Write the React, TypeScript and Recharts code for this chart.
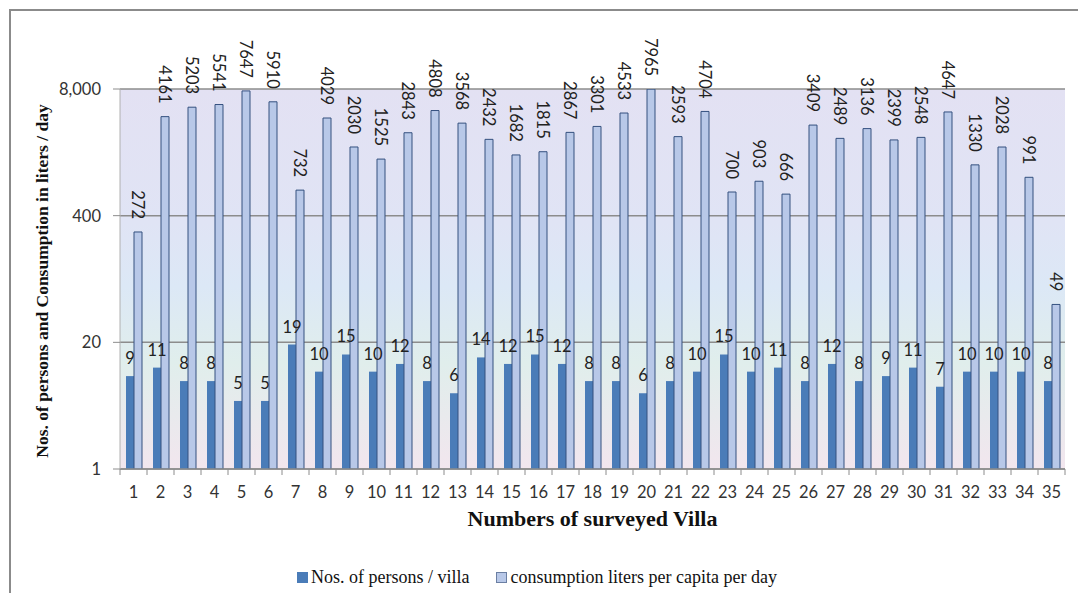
import { Bar, BarChart, CartesianGrid, LabelList, XAxis, YAxis } from "recharts";

const villas = [
  "1", "2", "3", "4", "5", "6", "7", "8", "9", "10", "11", "12", "13", "14", "15", "16", "17", "18",
  "19", "20", "21", "22", "23", "24", "25", "26", "27", "28", "29", "30", "31", "32", "33", "34", "35",
];

const persons = [
  9, 11, 8, 8, 5, 5, 19, 10, 15, 10, 12, 8, 6, 14, 12, 15, 12, 8, 8, 6, 8, 10, 15, 10, 11, 8, 12, 8, 9,
  11, 7, 10, 10, 10, 8,
];

const consumption = [
  272, 4161, 5203, 5541, 7647, 5910, 732, 4029, 2030, 1525, 2843, 4808, 3568, 2432, 1682, 1815, 2867,
  3301, 4533, 7965, 2593, 4704, 700, 903, 666, 3409, 2489, 3136, 2399, 2548, 4647, 1330, 2028, 991, 49,
];

const yTicks = [1, 20, 400, 8000];

const data = villas.map((villa, i) => ({
  villa,
  persons: persons[i],
  consumption: consumption[i],
}));

const PLOT_LEFT = 120;
const PLOT_RIGHT = 1065;
const PLOT_TOP = 89;
const PLOT_BOTTOM = 469;
const BAND = (PLOT_RIGHT - PLOT_LEFT) / villas.length;

const sans = "Lato, 'Open Sans', sans-serif";
const serif = "'Liberation Serif', 'DejaVu Serif', serif";

function XTick(props: any) {
  const { x, y, payload, index } = props;
  const axisY = y - 8;
  const isLast = index === villas.length - 1;
  return (
    <g>
      <line x1={x - BAND / 2} x2={x - BAND / 2} y1={axisY} y2={axisY + 6} stroke="#8c8c8c" />
      {isLast && (
        <line x1={x + BAND / 2} x2={x + BAND / 2} y1={axisY} y2={axisY + 6} stroke="#8c8c8c" />
      )}
      <text x={x} y={axisY + 29} textAnchor="middle" fontFamily={sans} fontSize={16.5} fill="#333">
        {payload.value}
      </text>
    </g>
  );
}

function PersonLabel(props: any) {
  const { x, y, width, value } = props;
  return (
    <text
      x={x + width / 2}
      y={y - 12}
      textAnchor="middle"
      fontFamily={sans}
      fontSize={16.5}
      fill="#222"
    >
      {value}
    </text>
  );
}

function ConsumptionLabel(props: any) {
  const { x, y, width, value } = props;
  const cx = x + width / 2;
  const cy = y - 13;
  return (
    <text
      x={cx}
      y={cy}
      transform={`rotate(90, ${cx}, ${cy})`}
      textAnchor="end"
      dominantBaseline="central"
      fontFamily={sans}
      fontSize={16.5}
      fill="#222"
    >
      {value}
    </text>
  );
}

function YTitle() {
  const cy = (PLOT_TOP + PLOT_BOTTOM) / 2 + 2;
  return (
    <text
      x={48}
      y={cy}
      transform={`rotate(-90, 48, ${cy})`}
      textAnchor="middle"
      fontFamily={serif}
      fontWeight="bold"
      fontSize={17.5}
      fill="#111"
    >
      Nos. of persons and Consumption in liters / day
    </text>
  );
}

function XTitle() {
  return (
    <text
      x={(PLOT_LEFT + PLOT_RIGHT) / 2}
      y={526}
      textAnchor="middle"
      fontFamily={serif}
      fontWeight="bold"
      fontSize={22}
      fill="#111"
    >
      Numbers of surveyed Villa
    </text>
  );
}

export default function App() {
  return (
    <div
      style={{
        position: "fixed",
        left: 0,
        top: 0,
        width: 1078,
        height: 593,
        overflow: "hidden",
        background: "#fff",
      }}
    >
      <svg width={0} height={0} style={{ position: "absolute" }}>
        <defs>
          <linearGradient id="plotBg" x1="0" y1="0" x2="0" y2="1">
            <stop offset="0%" stopColor="#e3e1f3" />
            <stop offset="35%" stopColor="#e0e4f5" />
            <stop offset="52%" stopColor="#dce8f6" />
            <stop offset="72%" stopColor="#e0eeec" />
            <stop offset="100%" stopColor="#f2e6ee" />
          </linearGradient>
        </defs>
      </svg>
      <div
        style={{
          position: "absolute",
          left: 9,
          top: 9,
          width: 1100,
          height: 620,
          border: "2px solid #8b8b8b",
          boxSizing: "border-box",
        }}
      />
      <div style={{ position: "absolute", left: 0, top: 0 }}>
        <BarChart
          width={1078}
          height={593}
          data={data}
          margin={{ top: PLOT_TOP, right: 1078 - PLOT_RIGHT, bottom: 593 - PLOT_BOTTOM - 30, left: 60 }}
          barGap={0}
          barSize={8}
        >
          <CartesianGrid
            vertical={false}
            fill="url(#plotBg)"
            stroke="#8c8c8c"
            strokeWidth={1.5}
          />
          <XAxis
            dataKey="villa"
            height={30}
            interval={0}
            tickLine={false}
            axisLine={{ stroke: "#8c8c8c", strokeWidth: 1.5 }}
            tick={<XTick />}
            label={<XTitle />}
          />
          <YAxis
            type="number"
            scale="log"
            domain={[1, 8000]}
            ticks={yTicks}
            allowDataOverflow
            width={60}
            tickSize={7}
            tickMargin={12}
            tickLine={{ stroke: "#8c8c8c" }}
            axisLine={{ stroke: "#b0b0b0" }}
            tick={{ fontFamily: sans, fontSize: 16.5, fill: "#333" }}
            tickFormatter={(v: number) => v.toLocaleString("en-US")}
            label={<YTitle />}
          />
          <Bar dataKey="persons" fill="#4a7cb8" isAnimationActive={false}>
            <LabelList dataKey="persons" content={<PersonLabel />} />
          </Bar>
          <Bar
            dataKey="consumption"
            fill="#b8c8e8"
            stroke="#34507f"
            strokeWidth={1}
            isAnimationActive={false}
          >
            <LabelList dataKey="consumption" content={<ConsumptionLabel />} />
          </Bar>
        </BarChart>
      </div>
      <div
        style={{
          position: "absolute",
          left: 297,
          top: 567,
          display: "flex",
          alignItems: "center",
          fontFamily: serif,
          fontSize: 18,
          color: "#111",
          lineHeight: "20px",
          whiteSpace: "nowrap",
        }}
      >
        <span style={{ width: 11, height: 11, background: "#4a7cb8", marginRight: 3 }} />
        <span style={{ marginRight: 27 }}>Nos. of persons / villa</span>
        <span
          style={{
            width: 9,
            height: 9,
            background: "#b8c8e8",
            border: "1px solid #6b7fa3",
            marginRight: 3,
          }}
        />
        <span>consumption liters per capita per day</span>
      </div>
    </div>
  );
}
